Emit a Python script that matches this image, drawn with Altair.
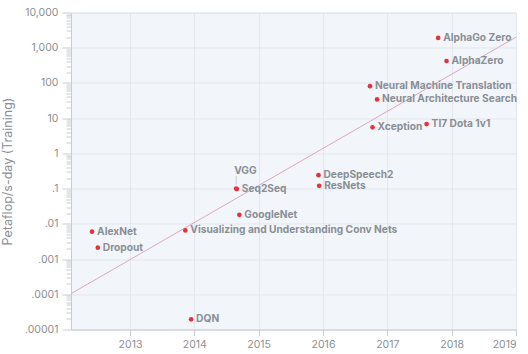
import json
import altair as alt
import pandas as pd

# Training compute of notable AI systems (petaflop/s-days), by publication year
names = [
    "AlexNet", "Dropout", "Visualizing and Understanding Conv Nets", "DQN",
    "VGG", "Seq2Seq", "GoogleNet", "DeepSpeech2", "ResNets",
    "Neural Machine Translation", "Neural Architecture Search", "Xception",
    "TI7 Dota 1v1", "AlphaGo Zero", "AlphaZero",
]
years = [
    2012.41, 2012.50, 2013.86, 2013.95,
    2014.65, 2014.66, 2014.70, 2015.93, 2015.94,
    2016.73, 2016.84, 2016.77,
    2017.61, 2017.79, 2017.92,
]
compute = [
    0.006, 0.0021, 0.0065, 0.0000195,
    0.1, 0.097, 0.018, 0.24, 0.12,
    81, 34, 5.5,
    6.8, 1900, 420,
]

# Exponential trend line end points
trend_years = [2012.083, 2019.0]
trend_values = [0.000104, 2000.0]

# Axis ticks
x_ticks = [2013, 2014, 2015, 2016, 2017, 2018, 2019]
y_ticks = [1e-5, 1e-4, 1e-3, 1e-2, 1e-1, 1, 10, 100, 1000, 10000]
y_tick_labels = [".00001", ".0001", ".001", ".01", ".1", "1", "10", "100", "1,000", "10,000"]
y_minor = [m * 10.0 ** e for e in range(-5, 4) for m in range(2, 10)]

FONT = "Inter"
LABEL_GRAY = "#8a8e96"
AXIS_GRAY = "#c9ccd1"
LABEL_SIZE = 10.2

points = pd.DataFrame({"name": names, "year": years, "compute": compute})
points["label"] = [n if n != "VGG" else "" for n in names]
vgg = points[points["name"] == "VGG"]
trend = pd.DataFrame({"year": trend_years, "compute": trend_values})

x_scale = alt.Scale(domain=[2012.083, 2019], nice=False, zero=False)
y_scale = alt.Scale(type="log", domain=[1e-5, 1e4], nice=False)

label_expr = f"{json.dumps(y_tick_labels)}[indexof({json.dumps(y_ticks)}, datum.value)]"

x_axis = alt.Axis(
    values=x_ticks, format="d", title=None, grid=True, gridColor="#e2e7ee",
    tickSize=6, tickColor=AXIS_GRAY, domainColor=AXIS_GRAY, labelPadding=4,
    labelFont=FONT, labelFontSize=10.5, labelColor="#8c8f94",
)
y_enc = alt.Y(
    "compute:Q", scale=y_scale,
    axis=alt.Axis(
        values=y_ticks, labelExpr=label_expr, title="Petaflop/s-day (Training)",
        titleFont=FONT, titleFontSize=12.5, titleFontWeight="normal", titleColor="#8c8f94",
        titlePadding=10, grid=True, gridColor="#e2e7ee",
        tickSize=9, tickColor=AXIS_GRAY, domainColor=AXIS_GRAY, labelPadding=4,
        labelFont=FONT, labelFontSize=10.5, labelColor="#8c8f94",
    ),
)

# x is shared by every layer (one axis); y axes are resolved per layer
x_enc = alt.X("year:Q", scale=x_scale, axis=x_axis)
y_plain = alt.Y("compute:Q", scale=y_scale, axis=None)

line = alt.Chart(trend).mark_line(color="#dca6c6", strokeWidth=1).encode(x=x_enc, y=y_enc)

# Minor log ticks on the left edge
minor = alt.Chart(trend).mark_point(opacity=0).encode(
    x=x_enc,
    y=alt.Y(
        "compute:Q", scale=y_scale,
        axis=alt.Axis(
            orient="left", values=y_minor, labels=False, grid=False, domain=False,
            title=None, tickSize=5, tickColor=AXIS_GRAY,
        ),
    ),
)

dots = alt.Chart(points).mark_circle(size=22, color="#e5323d", opacity=1).encode(
    x=x_enc, y=y_plain
)

labels = alt.Chart(points).mark_text(
    align="left", baseline="middle", dx=5, font=FONT, fontSize=LABEL_SIZE,
    fontWeight="bold", color=LABEL_GRAY,
).encode(x=x_enc, y=y_plain, text="label:N")

vgg_leader = alt.Chart(vgg).mark_tick(
    orient="vertical", size=9, thickness=1, color="#b9bcc2", yOffset=-8
).encode(x=x_enc, y=y_plain)

vgg_label = alt.Chart(vgg).mark_text(
    align="left", baseline="middle", dx=-2, dy=-18, font=FONT, fontSize=LABEL_SIZE,
    fontWeight="bold", color=LABEL_GRAY,
).encode(x=x_enc, y=y_plain, text="name:N")

chart = (
    alt.layer(line, minor, vgg_leader, dots, labels, vgg_label)
    .resolve_scale(y="shared", x="shared")
    .resolve_axis(y="independent")
    .properties(
        width=445, height=317,
        autosize=alt.AutoSizeParams(type="none"),
        padding={"left": 71, "top": 12.5, "right": 12, "bottom": 24.5},
    )
    .configure(background="white")
    .configure_view(fill="#f2f6fa", stroke="#e3e6ea")
)

chart.save("out.html", embed_options={"renderer": "svg", "actions": False})
